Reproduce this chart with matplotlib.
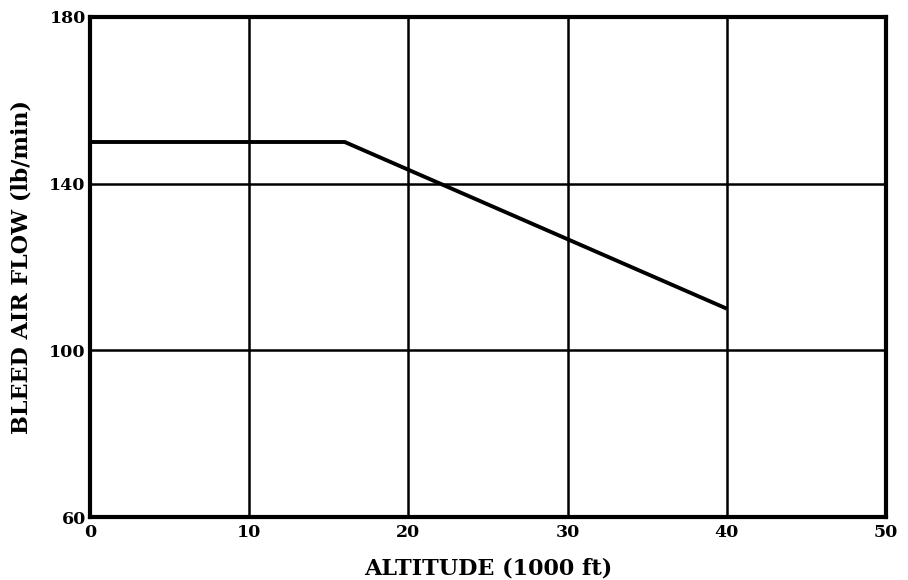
import matplotlib.pyplot as plt

# values
altitude = [0, 16, 40]          # 1000 ft
bleed_flow = [150, 150, 110]    # lb/min
x_ticks = [0, 10, 20, 30, 40, 50]
y_ticks = [60, 100, 140, 180]

plt.rcParams["font.family"] = ["DejaVu Serif"]
plt.rcParams["font.weight"] = "bold"

fig = plt.figure(figsize=(9.08, 5.80), dpi=100)
ax = fig.add_axes([0.0991, 0.1086, 0.8767, 0.8621])

ax.plot(altitude, bleed_flow, color="black", lw=2.8, solid_capstyle="butt", zorder=3)

ax.set_xlim(0, 50)
ax.set_ylim(60, 180)
ax.set_xticks(x_ticks)
ax.set_yticks(y_ticks)
ax.grid(True, color="black", lw=1.8)
ax.tick_params(axis="x", length=0, pad=5, labelsize=12.5)
ax.tick_params(axis="y", length=0, pad=3, labelsize=12.5)
for lbl in ax.get_xticklabels() + ax.get_yticklabels():
    lbl.set_fontweight("bold")
# bottom y label sits a bit above the corner, like in the scan
ax.get_yticklabels()[0].set_verticalalignment("center_baseline")
for s in ax.spines.values():
    s.set_linewidth(3)

ax.set_xlabel("ALTITUDE (1000 ft)", fontsize=16, fontweight="bold", labelpad=12)
ax.set_ylabel("BLEED AIR FLOW (lb/min)", fontsize=16, fontweight="bold", labelpad=12)

plt.savefig("out.png", dpi=100)
